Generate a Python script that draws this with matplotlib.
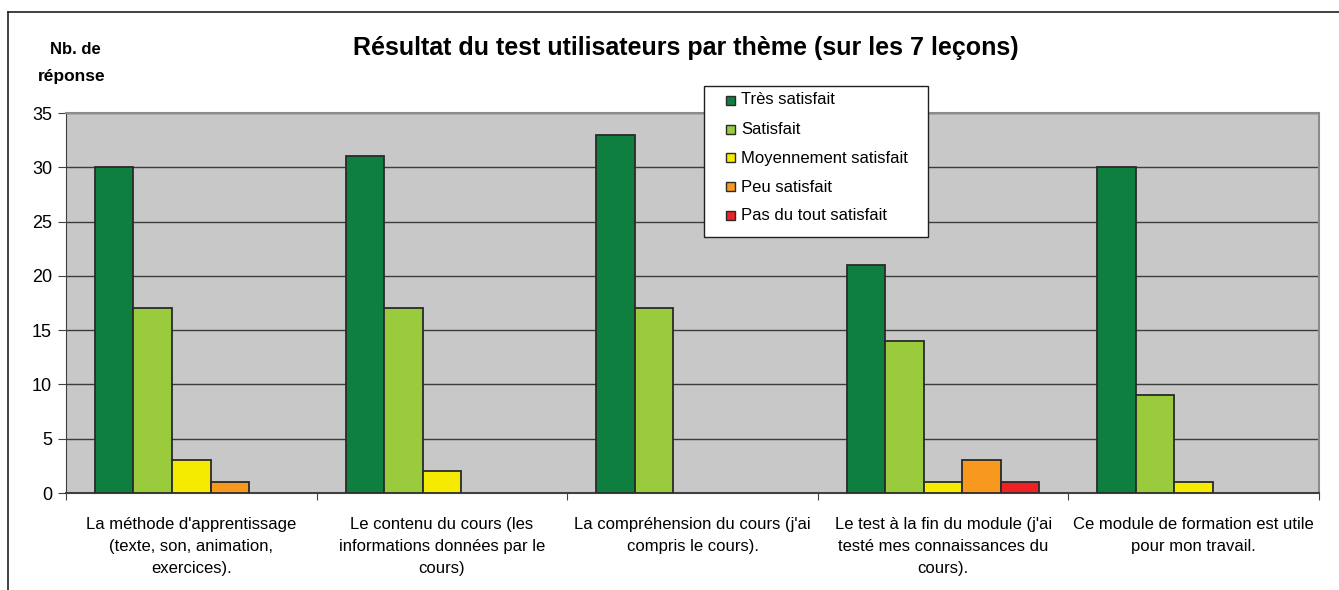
import matplotlib
matplotlib.use("Agg")
import matplotlib.pyplot as plt
import numpy as np
from matplotlib.lines import Line2D
from matplotlib.patches import Rectangle

plt.rcParams['font.family'] = ['Liberation Sans', 'DejaVu Sans']

categories = [
    "La méthode d'apprentissage\n(texte, son, animation,\nexercices).",
    "Le contenu du cours (les\ninformations données par le\ncours)",
    "La compréhension du cours (j'ai\ncompris le cours).",
    "Le test à la fin du module (j'ai\ntesté mes connaissances du\ncours).",
    "Ce module de formation est utile\npour mon travail.",
]
series_names = ["Très satisfait", "Satisfait", "Moyennement satisfait",
                "Peu satisfait", "Pas du tout satisfait"]
tres_satisfait = [30, 31, 33, 21, 30]
satisfait = [17, 17, 17, 14, 9]
moyennement = [3, 2, 0, 1, 1]
peu_satisfait = [1, 0, 0, 3, 0]
pas_du_tout = [0, 0, 0, 1, 0]
yticks = [0, 5, 10, 15, 20, 25, 30, 35]

series = [tres_satisfait, satisfait, moyennement, peu_satisfait, pas_du_tout]
colors = ["#0F7F3F", "#99CB3D", "#F5EB00", "#F7991F", "#EE2124"]

W, H = 1339, 590
fig = plt.figure(figsize=(W / 100, H / 100), dpi=100)
ax = fig.add_axes([66/W, 1 - 493/H, (1319-66)/W, (493-113)/H])
ax.set_facecolor("#C8C8C8")

n = len(series)
bw = 1 / (n + 1.5)
x = np.arange(len(categories))
for i, (vals, c) in enumerate(zip(series, colors)):
    offs = (i - (n - 1) / 2) * bw
    vals = np.asarray(vals, dtype=float)
    m = vals > 0
    ax.bar((x + offs)[m], vals[m], width=bw, color=c, edgecolor="#2A2A2A",
           linewidth=1.3, zorder=3)

ax.set_xlim(-0.5, len(categories) - 0.5)
ax.set_ylim(0, 35)
ax.set_yticks(yticks)
ax.set_yticklabels([str(v) for v in yticks], fontsize=13)
ax.yaxis.grid(True, color="#3C3C3C", linewidth=1.0, zorder=1)
ax.set_axisbelow(True)

ax.set_xticks(np.arange(len(categories) + 1) - 0.5, minor=False)
ax.set_xticklabels([])
ax.set_xticks(x, minor=True)
ax.set_xticklabels(categories, minor=True, fontsize=12, linespacing=1.6)
ax.tick_params(axis='x', which='minor', length=0, pad=17)
ax.tick_params(axis='x', which='major', length=5, color="#404040", direction='out')
ax.tick_params(axis='y', length=6, color="#404040", direction='out', pad=4)

for s in ['top', 'right']:
    ax.spines[s].set_color("#8C8C8C")
    ax.spines[s].set_linewidth(1.5)
ax.spines['left'].set_color("#404040")
ax.spines['bottom'].set_color("#404040")
ax.spines['bottom'].set_linewidth(1.5)

fig.text(686/W, 1 - 48/H, "Résultat du test utilisateurs par thème (sur les 7 leçons)",
         ha='center', va='center', fontsize=18, fontweight='bold')
fig.text(75/W, 1 - 50/H, "Nb. de", ha='center', va='center',
         fontsize=12, fontweight='bold')
fig.text(72/W, 1 - 77/H, "réponse", ha='center', va='center',
         fontsize=12.5, fontweight='bold')

# outer frame
fig.add_artist(Line2D([8/W, 8/W], [0, 1 - 12/H], transform=fig.transFigure,
                      color="#202020", linewidth=1.2))
fig.add_artist(Line2D([8/W, 1], [1 - 12/H, 1 - 12/H], transform=fig.transFigure,
                      color="#202020", linewidth=1.2))

# legend box
fig.add_artist(Rectangle((704/W, 1 - 237/H), (928-704)/W, (237-86)/H,
                         transform=fig.transFigure, facecolor="white",
                         edgecolor="#202020", linewidth=1.0, zorder=5))
for k, (name, c) in enumerate(zip(series_names, colors)):
    yc = 100 + 29 * k
    fig.add_artist(Rectangle((726/W, 1 - (yc + 4.5)/H), 9/W, 9/H,
                             transform=fig.transFigure, facecolor=c,
                             edgecolor="#2A2A2A", linewidth=1.0, zorder=6))
    fig.text(741/W, 1 - yc/H, name, ha='left', va='center', fontsize=12, zorder=7)

fig.savefig("out.png", dpi=100)
